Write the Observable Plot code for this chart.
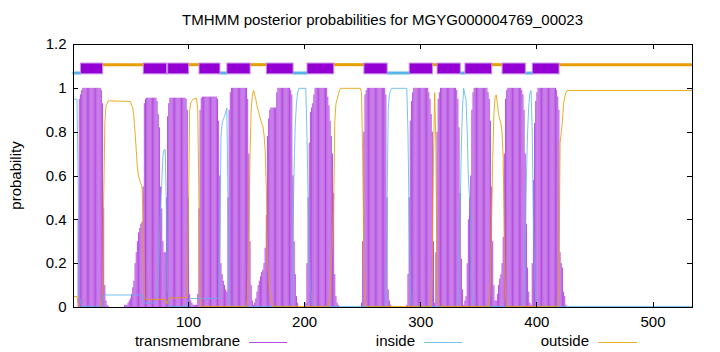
<!DOCTYPE html>
<html><head><meta charset="utf-8">
<script src="https://cdn.jsdelivr.net/npm/d3@7"></script>
<script src="https://cdn.jsdelivr.net/npm/@observablehq/plot@0.6"></script>
<style>body{margin:0;background:#fff} svg{display:block}</style>
</head><body><div id="chart"></div>
<script>
// ---------- data ----------
const title = "TMHMM posterior probabilities for MGYG000004769_00023";
const seqLength = 534;
const xTicks = [100, 200, 300, 400, 500];
const yTicks = [0, 0.2, 0.4, 0.6, 0.8, 1, 1.2];
const legendLabels = ["transmembrane", "inside", "outside"];

// predicted topology segments [start, end]
const tmSegments = [[8,26],[62,81],[83,100],[110,127],[134,153],[168,190],[203,225],[252,271],[291,310],[315,334],[339,361],[371,390],[397,419]];
const insideSegments = [[1,7],[82,82],[128,133],[191,202],[272,290],[335,338],[391,396]];
const outsideSegments = [[27,61],[101,109],[154,167],[226,251],[311,314],[362,370],[420,534]];

// transmembrane posterior per residue: [first residue, values...] (zero elsewhere)
const tmRuns = [
  [5, [0.40,0.95,0.97,0.99, 1,1,1,1,1,1,1,1,1,1,1,1,1,1,1,1, 0.99,0.93,0.45,0.1,0.03,0.01,0.005]],
  [45, [0.01,0.01,0.01,
        0.02,0.03,0.04,0.06,0.09,0.12,0.2,0.25,0.3,0.34,0.36,0.38,0.39,
        0.55,0.93,0.95,
        0.955,0.955,0.955,0.955,0.955,0.955,0.955,0.955,0.955,
        0.94,0.88,0.82,0.55,0.45,0.3,0.25,0.25,0.5,0.87,0.93,
        0.955,0.955,0.955,0.955,0.955,0.955,0.955,0.955,0.955,0.955,0.955,0.955,0.955,0.955,
        0.95,0.9,0.5,0.06,0.03,0.02,0.01,0.01,0.01,0.01,0.06,0.45,0.9,0.955,
        0.96,0.96,0.96,0.96,0.96,0.96,0.96,0.96,0.96,0.96,0.96,0.96,0.96,
        0.95,0.85,0.6,0.2,0.15,0.12,0.1,0.08,0.07,0.5,0.9,0.98,
        1,1,1,1,1,1,1,1,1,1,1,1,1,1,
        0.95,0.7,0.3,0.1,0.03,0.01,0.02,0.04,0.07,0.1,0.12,0.14,0.16,0.17,0.2,0.27,0.42,0.78,0.86,0.9,
        0.91,0.91,0.91,0.91,0.91,
        0.98,
        1,1,1,1,1,1,1,1,1,1,1,
        0.99,0.97,0.6,0.3,0.15,0.05,0.02]],
  [201, [0.02,0.2,0.5,0.75,0.89,0.91,0.93,0.97,
         1,1,1,1,1,1,1,1,1,1,1,
         0.96,0.92,0.85,0.78,0.7,0.52,0.15,0.05,0.02,0.01]],
  [249, [0.02,0.3,0.8,0.97,0.99,
         1,1,1,1,1,1,1,1,1,1,1,1,1,1,1,1,
         0.97,0.5,0.08,0.03,0.01]],
  [288, [0.01,0.15,0.5,0.85,0.94,0.98,
         1,1,1,1,1,1,1,1,1,1,1,1,1,
         0.98,0.95,0.88,0.8,0.3,0.02,0.25,0.8,0.95,0.98,
         1,1,1,1,1,1,1,1,1,1,1,1,1,1,
         0.99,0.95,0.82,0.52,0.22,0.08,0.01,0.03,0.05,0.2,0.4,0.5,0.6,0.9,0.98,
         1,1,1,1,1,1,1,1,1,1,1,1,
         0.98,0.95,0.85,0.55,0.3,0.1,0.03,0.03,0.06,0.1,0.13,0.15,0.2,0.32,0.7,0.95,0.99,
         1,1,1,1,1,1,1,1,1,1,1,1,
         0.99,0.97,0.9,0.7,0.38,0.18,0.07,0.02,0.01,0.2,0.58,0.84,0.94,0.98,
         1,1,1,1,1,1,1,1,1,1,1,1,1,1,1,1,
         0.99,0.96,0.9,0.25,0.2,0.18,0.07,0.05,0.01]]
];

// inside posterior [residue, p]
const insidePts = [[1,0.95],[4,0.95],[5,0.58],[6,0.05],[7,0.03],[8,0.005],[26,0.005],[27,0.057],[60,0.057],[61,0.04],[62,0.02],[70,0.02],[72,0.04],[74,0.15],[76,0.45],[78,0.69],[79,0.72],[80,0.72],[81,0.45],[82,0.1],[83,0.03],[84,0.005],[99,0.005],[100,0.03],[101,0.041],[126,0.041],[127,0.3],[128,0.78],[129,0.84],[130,0.86],[131,0.87],[132,0.89],[133,0.91],[134,0.5],[135,0.08],[136,0.005],[189,0.005],[190,0.35],[191,0.65],[192,0.84],[193,0.93],[194,0.98],[195,1],[201,1],[202,0.8],[203,0.5],[204,0.25],[205,0.1],[206,0.04],[207,0.005],[270,0.005],[271,0.48],[272,0.9],[273,0.97],[274,0.99],[275,1],[288,1],[289,0.8],[290,0.4],[291,0.1],[292,0.03],[293,0.005],[332,0.005],[333,0.15],[334,0.45],[335,0.75],[336,0.92],[337,1],[338,0.97],[339,0.95],[340,0.8],[341,0.6],[342,0.5],[343,0.4],[344,0.1],[345,0.02],[346,0.005],[388,0.005],[389,0.05],[390,0.25],[391,0.6],[392,0.8],[393,0.92],[394,0.98],[395,0.99],[396,0.8],[397,0.4],[398,0.15],[399,0.05],[400,0.005],[534,0.005]];

// outside posterior [residue, p]
const outsidePts = [[1,0.05],[4,0.05],[5,0.02],[6,0],[25,0],[26,0.07],[27,0.5],[28,0.84],[29,0.92],[31,0.943],[50,0.94],[52,0.91],[53,0.87],[54,0.8],[55,0.72],[56,0.64],[57,0.6],[58,0.58],[59,0.565],[60,0.55],[61,0.4],[62,0.05],[63,0.037],[80,0.037],[81.6,0.016],[83,0.043],[99,0.045],[100,0.45],[101,0.9],[102,0.935],[104,0.95],[107,0.955],[108,0.9],[109,0.5],[110,0.05],[111,0.005],[150,0.005],[151,0.05],[152,0.3],[153,0.7],[154,0.9],[155,0.97],[156,0.99],[157,0.97],[158,0.95],[159,0.92],[160,0.9],[161,0.88],[162,0.86],[163,0.84],[164,0.83],[165,0.79],[166,0.72],[167,0.55],[168,0.22],[169,0.14],[170,0.08],[171,0.04],[172,0.02],[173,0.005],[221,0.005],[222,0.05],[223,0.2],[224,0.3],[225,0.45],[226,0.85],[227,0.93],[228,0.95],[229,0.97],[230,0.99],[231,1],[248,1],[249,0.98],[250,0.7],[251,0.2],[252,0.03],[253,0.005],[309,0.005],[310,0.15],[311,0.7],[312,0.98],[313,0.75],[314,0.15],[315,0.02],[316,0.005],[359,0.005],[360,0.12],[361,0.42],[362,0.68],[363,0.88],[364,0.96],[365,0.97],[366,0.93],[367,0.88],[368,0.86],[369,0.84],[370,0.8],[371,0.68],[372,0.3],[373,0.05],[374,0.005],[418,0.005],[419,0.1],[420,0.75],[421,0.8],[422,0.85],[423,0.93],[424,0.96],[425,0.98],[426,0.99],[534,0.99]];

// ---------- styles ----------
const TM = "#9400d3", IN = "#56b4e9", OUT = "#e69f00";
const FONT = "'Liberation Sans', Arial, sans-serif";

const tmRows = tmRuns.flatMap(([start, vals]) => vals.map((p, i) => ({pos: start + i, p})));

const W = 720, H = 352, ML = 73, MR = 28, MT = 44, MB = 45;
const plot = Plot.plot({
  width: W, height: H, marginLeft: ML, marginRight: MR, marginTop: MT, marginBottom: MB,
  style: {fontFamily: FONT, fontSize: "15px", background: "white", color: "black"},
  x: {domain: [1, seqLength]},
  y: {domain: [0, 1.2]},
  marks: [
    Plot.ruleX(tmRows, {x: "pos", y1: 0, y2: "p", stroke: TM, strokeOpacity: 0.7, strokeWidth: 1}),
    Plot.line(insidePts, {x: d => d[0], y: d => d[1], stroke: IN, strokeOpacity: 0.8, strokeWidth: 1}),
    Plot.line(outsidePts, {x: d => d[0], y: d => d[1], stroke: OUT, strokeOpacity: 0.85, strokeWidth: 1}),
    Plot.ruleY(outsideSegments, {x1: d => d[0] - 0.5, x2: d => d[1] + 0.5, y: 1.108, stroke: OUT, strokeWidth: 3}),
    Plot.ruleY(insideSegments, {x1: d => d[0] - 0.5, x2: d => d[1] + 0.5, y: 1.07, stroke: IN, strokeWidth: 3}),
    Plot.rect(tmSegments, {x1: d => d[0] - 0.5, x2: d => d[1] + 0.5, y1: 1.064, y2: 1.113, fill: TM, stroke: "#c58ae9", strokeWidth: 1}),
    Plot.frame({stroke: "black"}),
    Plot.axisX({ticks: xTicks, tickSize: 0, tickPadding: 9, label: null}),
    Plot.axisY({ticks: yTicks, tickSize: 0, tickPadding: 7, label: null, tickFormat: d => String(+d.toFixed(1))})
  ]
});
document.getElementById("chart").appendChild(plot);

// inward (mirrored) ticks, title, y label, legend
const sx = plot.scale("x"), sy = plot.scale("y");
const svg = d3.select(plot);
const g = svg.append("g").attr("stroke", "black").attr("stroke-width", 1);
const L = 5, x0 = ML, x1 = W - MR, y0 = H - MB, y1 = MT;
for (const t of xTicks) {
  const x = Math.round(sx.apply(t)) + 0.5;
  g.append("line").attr("x1", x).attr("x2", x).attr("y1", y0).attr("y2", y0 - L);
  g.append("line").attr("x1", x).attr("x2", x).attr("y1", y1).attr("y2", y1 + L);
}
for (const t of yTicks) {
  const y = Math.round(sy.apply(t)) + 0.5;
  g.append("line").attr("y1", y).attr("y2", y).attr("x1", x0).attr("x2", x0 + L);
  g.append("line").attr("y1", y).attr("y2", y).attr("x1", x1).attr("x2", x1 - L);
}
svg.append("text").attr("x", (x0 + x1) / 2).attr("y", 21).attr("text-anchor", "middle")
  .attr("dominant-baseline", "middle").attr("font-family", FONT).attr("font-size", 15).text(title);
svg.append("text").attr("transform", `translate(17,${(y0 + y1) / 2}) rotate(-90)`).attr("text-anchor", "middle")
  .attr("dominant-baseline", "middle").attr("font-family", FONT).attr("font-size", 15).text("probability");
const legend = [
  {label: legendLabels[0], color: TM, op: 0.7, textEnd: 240, lx1: 249, lx2: 287},
  {label: legendLabels[1], color: IN, op: 0.8, textEnd: 415, lx1: 424, lx2: 462},
  {label: legendLabels[2], color: OUT, op: 0.85, textEnd: 589, lx1: 598, lx2: 637}
];
for (const it of legend) {
  svg.append("text").attr("x", it.textEnd).attr("y", 342).attr("text-anchor", "end")
    .attr("dominant-baseline", "middle").attr("font-family", FONT).attr("font-size", 15).text(it.label);
  svg.append("line").attr("x1", it.lx1).attr("x2", it.lx2).attr("y1", 342.5).attr("y2", 342.5)
    .attr("stroke", it.color).attr("stroke-opacity", it.op).attr("stroke-width", 1);
}
</script></body></html>
